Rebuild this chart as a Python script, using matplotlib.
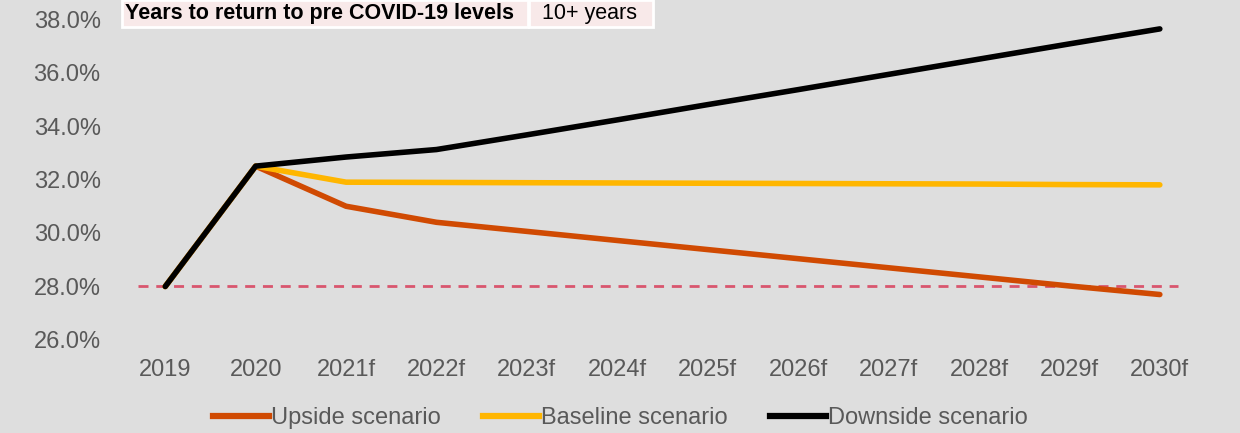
import numpy as np
import matplotlib
matplotlib.use("Agg")
import matplotlib.pyplot as plt
from matplotlib.lines import Line2D

plt.rcParams['font.family'] = ['Liberation Sans', 'DejaVu Sans']

years = ['2019', '2020', '2021f', '2022f', '2023f', '2024f', '2025f',
         '2026f', '2027f', '2028f', '2029f', '2030f']
upside = [28.0, 32.5, 31.0, 30.4, 30.06, 29.72, 29.38, 29.04, 28.7, 28.36, 28.02, 27.7]
baseline = [28.0, 32.5, 31.9, 31.89, 31.88, 31.87, 31.86, 31.85, 31.84, 31.83, 31.81, 31.8]
downside = [28.0, 32.5, 32.84, 33.12, 33.67, 34.23, 34.8, 35.36, 35.93, 36.5, 37.07, 37.63]
pre_covid = 28.0

bg = '#dedede'
grey = '#595959'

fig = plt.figure(figsize=(12.4, 4.33), dpi=100, facecolor=bg)
ax = fig.add_axes([0.0968, 0.2148, 0.875, 0.7413], facecolor=bg)

x = np.arange(len(years))
ax.hlines(pre_covid, -0.3, 11.2, colors='#d9566e', linestyles=(0, (3.6, 2.8)), linewidth=2, zorder=2)
ax.plot(x, upside, color='#d04a02', linewidth=4, solid_capstyle='round', zorder=3)
ax.plot(x, baseline, color='#ffb600', linewidth=4, solid_capstyle='round', zorder=3)
ax.plot(x, downside, color='black', linewidth=4, solid_capstyle='round', zorder=4)

ax.set_xlim(-0.5, 11.5)
ax.set_ylim(26, 38)
ax.set_yticks(np.arange(26, 38.1, 2))
ax.set_yticklabels([f'{v:.1f}%' for v in np.arange(26, 38.1, 2)])
ax.set_xticks(x)
ax.set_xticklabels(years)
ax.tick_params(colors=grey, labelsize=17, length=0)
ax.tick_params(axis='x', pad=14)
ax.tick_params(axis='y', pad=14)
for s in ax.spines.values():
    s.set_visible(False)

# table box at top
fig.patches.append(plt.Rectangle((122 / 1240, 1 - 27 / 433), 406 / 1240, 27 / 433,
                                 transform=fig.transFigure, facecolor='#f8e9e9',
                                 edgecolor='white', linewidth=2))
fig.patches.append(plt.Rectangle((529 / 1240, 1 - 27 / 433), 124 / 1240, 27 / 433,
                                 transform=fig.transFigure, facecolor='#f8e9e9',
                                 edgecolor='white', linewidth=2))
fig.text(125 / 1240, 1 - 13 / 433, 'Years to return to pre COVID-19 levels', fontsize=15.5,
         fontweight='bold', color='black', va='center', ha='left')
fig.text(590 / 1240, 1 - 13 / 433, '10+ years', fontsize=15.5, color='black',
         va='center', ha='center')

handles = [Line2D([], [], color='#d04a02', linewidth=4.5),
           Line2D([], [], color='#ffb600', linewidth=4.5),
           Line2D([], [], color='black', linewidth=4.5)]
labels = ['Upside scenario', 'Baseline scenario', 'Downside scenario']
leg = fig.legend(handles, labels, loc='center', bbox_to_anchor=(0.5, 1 - 418 / 433), ncol=3,
                 frameon=False, fontsize=17, handlelength=2.4, handletextpad=0.05,
                 columnspacing=1.8)
for t in leg.get_texts():
    t.set_color(grey)

fig.savefig('out.png', dpi=100, facecolor=bg)
